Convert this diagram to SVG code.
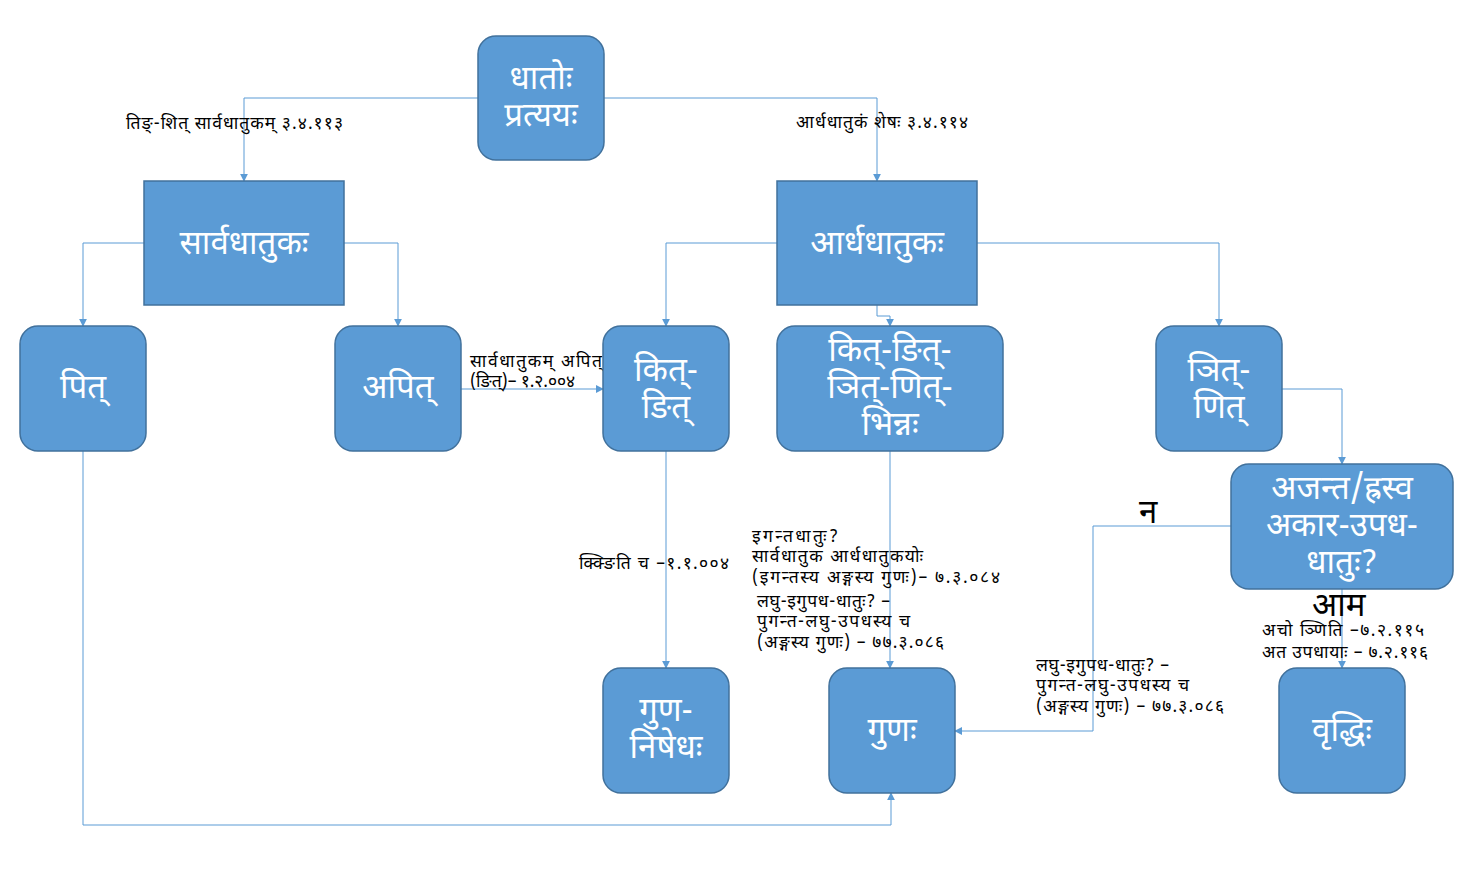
<svg xmlns="http://www.w3.org/2000/svg" width="1477" height="895" viewBox="0 0 1477 895">
<defs>
<marker id="ar" viewBox="0 0 10 10" refX="9" refY="5" markerWidth="8" markerHeight="8" markerUnits="userSpaceOnUse" orient="auto"><path d="M0,0 L10,5 L0,10 z" fill="#5B9BD5"/></marker>
<style>
.n{fill:#5B9BD5;stroke:#41719C;stroke-width:1.5}
.t{font-family:"Noto Sans Devanagari","Noto Sans","Lohit Devanagari",sans-serif;font-size:33px;fill:#fff;text-anchor:middle}
.l{font-family:"Noto Sans Devanagari","Noto Sans","Lohit Devanagari",sans-serif;font-size:17.5px;fill:#000}
.b{font-family:"Noto Sans Devanagari","Noto Sans","Lohit Devanagari",sans-serif;font-size:33px;fill:#000}
.c{fill:none;stroke:#5B9BD5;stroke-width:1;marker-end:url(#ar)}
</style>
</defs>
<rect width="1477" height="895" fill="#fff"/>
<g id="connectors">
<path class="c" d="M478,98 H244 V181"/>
<path class="c" d="M604,98 H877 V181"/>
<path class="c" d="M144,243 H83 V326"/>
<path class="c" d="M344,243 H398 V326"/>
<path class="c" d="M461,389 H603"/>
<path class="c" d="M777,243 H666 V326"/>
<path class="c" d="M877,305 V316 H890 V326"/>
<path class="c" d="M977,243 H1219 V326"/>
<path class="c" d="M1282,389 H1342 V464"/>
<path class="c" d="M666,451 V668"/>
<path class="c" d="M890,451 V668"/>
<path class="c" d="M1231,526 H1093 V731 H955"/>
<path class="c" d="M1342,589 V668"/>
<path class="c" d="M83,451 V825 H891 V793"/>
</g>
<g id="labels">
<text class="l" x="126" y="129" textLength="217" lengthAdjust="spacing">तिङ्-शित् सार्वधातुकम् ३.४.११३</text>
<text class="l" x="796" y="128" textLength="172" lengthAdjust="spacing">आर्धधातुकं शेषः ३.४.११४</text>
<text class="l" x="470" y="367" textLength="132" lengthAdjust="spacing">सार्वधातुकम् अपित्</text>
<text class="l" x="470" y="387" textLength="105" lengthAdjust="spacing">(ङित्)– १.२.००४</text>
<text class="l" x="579" y="569" textLength="150" lengthAdjust="spacing">क्क्ङिति च –१.१.००४</text>
<text class="l" x="752" y="542" textLength="86" lengthAdjust="spacing">इगन्तधातुः?</text>
<text class="l" x="752" y="562" textLength="171" lengthAdjust="spacing">सार्वधातुक आर्धधातुकयोः</text>
<text class="l" x="752" y="583" textLength="248" lengthAdjust="spacing">(इगन्तस्य अङ्गस्य गुणः)– ७.३.०८४</text>
<text class="l" x="757" y="607" textLength="133" lengthAdjust="spacing">लघु-इगुपध-धातुः? –</text>
<text class="l" x="757" y="627" textLength="153" lengthAdjust="spacing">पुगन्त-लघु-उपधस्य च</text>
<text class="l" x="757" y="648" textLength="187" lengthAdjust="spacing">(अङ्गस्य गुणः) – ७७.३.०८६</text>
<text class="l" x="1036" y="671" textLength="133" lengthAdjust="spacing">लघु-इगुपध-धातुः? –</text>
<text class="l" x="1036" y="691" textLength="153" lengthAdjust="spacing">पुगन्त-लघु-उपधस्य च</text>
<text class="l" x="1036" y="712" textLength="188" lengthAdjust="spacing">(अङ्गस्य गुणः) – ७७.३.०८६</text>
<text class="b" x="1139" y="523">न</text>
<text class="b" x="1312" y="616">आम</text>
<text class="l" x="1262" y="636" textLength="162" lengthAdjust="spacing">अचो ञ्णिति –७.२.११५</text>
<text class="l" x="1262" y="658" textLength="166" lengthAdjust="spacing">अत उपधायाः – ७.२.११६</text>
</g>
<g id="n-dhatoh"><rect class="n" x="478" y="36" width="126" height="124" rx="18"/><text class="t" x="541" y="89">धातोः</text><text class="t" x="541" y="126">प्रत्ययः</text></g>
<g id="n-sarva"><rect class="n" x="144" y="181" width="200" height="124"/><text class="t" x="244" y="254">सार्वधातुकः</text></g>
<g id="n-ardha"><rect class="n" x="777" y="181" width="200" height="124"/><text class="t" x="877" y="254">आर्धधातुकः</text></g>
<g id="n-pit"><rect class="n" x="20" y="326" width="126" height="125" rx="18"/><text class="t" x="83" y="398">पित्</text></g>
<g id="n-apit"><rect class="n" x="335" y="326" width="126" height="125" rx="18"/><text class="t" x="398" y="398">अपित्</text></g>
<g id="n-kit"><rect class="n" x="603" y="326" width="126" height="125" rx="18"/><text class="t" x="666" y="381">कित्-</text><text class="t" x="666" y="418">ङित्</text></g>
<g id="n-bhinna"><rect class="n" x="777" y="326" width="226" height="125" rx="18"/><text class="t" x="890" y="361">कित्-ङित्-</text><text class="t" x="890" y="398">ञित्-णित्-</text><text class="t" x="890" y="435">भिन्नः</text></g>
<g id="n-nit"><rect class="n" x="1156" y="326" width="126" height="125" rx="18"/><text class="t" x="1219" y="381">ञित्-</text><text class="t" x="1219" y="418">णित्</text></g>
<g id="n-ajanta"><rect class="n" x="1231" y="464" width="222" height="125" rx="18"/><text class="t" x="1342" y="499">अजन्त/ह्रस्व</text><text class="t" x="1342" y="536">अकार-उपध-</text><text class="t" x="1342" y="573">धातुः?</text></g>
<g id="n-gunanishedha"><rect class="n" x="603" y="668" width="126" height="125" rx="18"/><text class="t" x="666" y="721">गुण-</text><text class="t" x="666" y="758">निषेधः</text></g>
<g id="n-guna"><rect class="n" x="829" y="668" width="126" height="125" rx="18"/><text class="t" x="892" y="741">गुणः</text></g>
<g id="n-vrddhi"><rect class="n" x="1279" y="668" width="126" height="125" rx="18"/><text class="t" x="1342" y="741">वृद्धिः</text></g>
</svg>
